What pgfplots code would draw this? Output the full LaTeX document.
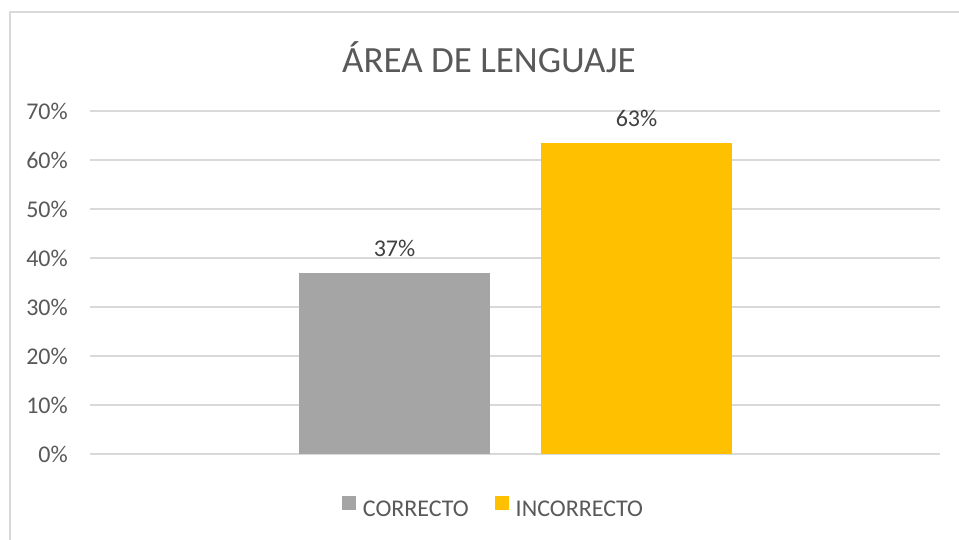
\documentclass[border=0pt]{standalone}
\usepackage{pgfplots}
\pgfplotsset{compat=1.18}
\usepackage{fontspec}
\setmainfont{Carlito}
\definecolor{barG}{HTML}{A5A5A5}
\definecolor{barY}{HTML}{FFC000}
\definecolor{gridc}{HTML}{D9D9D9}
\definecolor{tc}{HTML}{595959}
\definecolor{lc}{HTML}{404040}
\begin{document}
\begin{tikzpicture}[x=1pt,y=1pt]
\useasboundingbox (0,0) rectangle (959,540);
% chart frame (left and top edges visible)
\draw[gridc, line width=1.2pt] (10,-2) -- (10,528) -- (962,528);
% title
\node[text=tc, font=\fontsize{37}{40}\selectfont] at (489,483) {ÁREA DE LENGUAJE};
\begin{axis}[
  at={(90pt,86pt)}, anchor=south west,
  scale only axis, width=850pt, height=343pt,
  xmin=0, xmax=850, ymin=0, ymax=70,
  enlargelimits=false,
  ybar, bar shift=0pt, bar width=191,
  axis line style={draw=none},
  major tick style={draw=none},
  xtick=\empty,
  ytick={0,10,...,70},
  yticklabels={0\%,10\%,20\%,30\%,40\%,50\%,60\%,70\%},
  yticklabel style={font=\fontsize{24}{28}\selectfont, text=tc, inner sep=0pt, xshift=-22pt},
  ymajorgrids, major grid style={gridc, line width=1.2pt},
  legend style={at={(0.4747,-0.1574)}, anchor=center, draw=none, legend columns=2,
    font=\fontsize{24}{28}\selectfont, text=tc,
    /tikz/every even column/.append style={column sep=24pt}},
  legend image code/.code={\fill[#1] (0pt,0pt) rectangle (14pt,14pt);\path (19pt,0pt);},
  every node near coord/.append style={font=\fontsize{24}{28}\selectfont, text=lc, anchor=base, yshift=17pt, inner sep=0pt},
]
\addplot[fill=barG, draw=none, nodes near coords={37\%}] coordinates {(304.5,36.9)};
\addlegendentry{CORRECTO}
\addplot[fill=barY, draw=none, nodes near coords={63\%}] coordinates {(546.5,63.4)};
\addlegendentry{INCORRECTO}
\end{axis}
\end{tikzpicture}
\end{document}
